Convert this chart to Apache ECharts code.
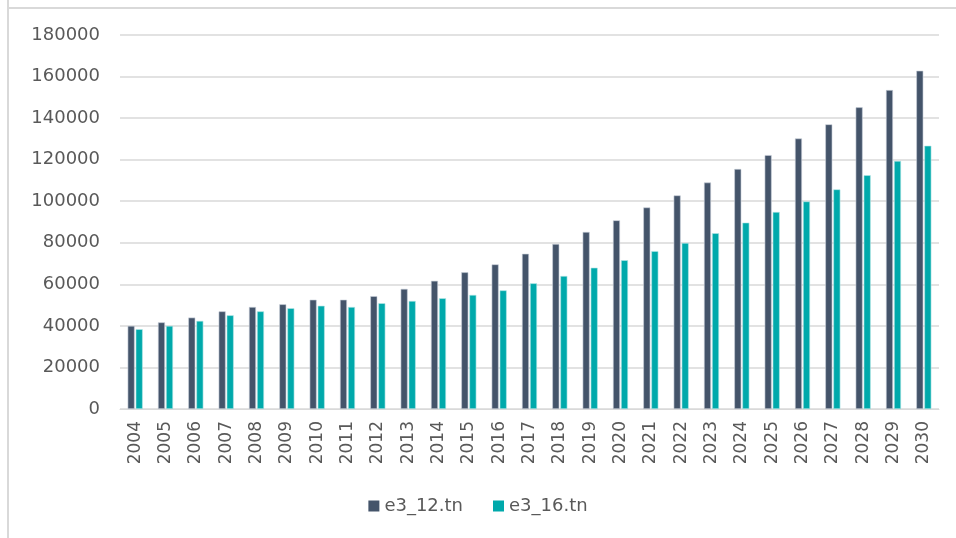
<!DOCTYPE html>
<html>
<head>
<meta charset="utf-8">
<script src="https://cdn.jsdelivr.net/npm/echarts@6/dist/echarts.min.js"></script>
<style>
html,body{margin:0;padding:0;background:#fff;}
#c{width:956px;height:538px;}
</style>
</head>
<body>
<div id="c"></div>
<script>
var years = ['2004','2005','2006','2007','2008','2009','2010','2011','2012','2013','2014','2015','2016','2017','2018','2019','2020','2021','2022','2023','2024','2025','2026','2027','2028','2029','2030'];
var e3_12 = [40000,41700,44000,47000,49100,50400,52600,52600,54300,57800,61700,65800,69600,74700,79400,85200,90800,97000,102800,109000,115500,122200,130200,137000,145200,153500,162800];
var e3_16 = [38400,40000,42400,45100,47000,48500,49700,49100,50900,52000,53300,54900,57100,60500,64000,68000,71600,76000,79900,84600,89700,94800,99900,105700,112500,119400,126700];
var yTicks = {min:0, max:180000, interval:20000};

var chart = echarts.init(document.getElementById('c'), null, {renderer:'canvas'});
var labelFont = 'DejaVu Sans';
chart.setOption({
  backgroundColor:'#ffffff',
  animation:false,
  graphic:[
    {type:'line', shape:{x1:8,y1:0,x2:8,y2:538}, style:{stroke:'#d9d9d9', lineWidth:2}},
    {type:'line', shape:{x1:8,y1:8,x2:956,y2:8}, style:{stroke:'#d9d9d9', lineWidth:2}}
  ],
  grid:{left:120, right:17, top:35, bottom:129, containLabel:false},
  legend:{
    bottom:18, left:'center', itemWidth:11, itemHeight:11, itemGap:30,
    icon:'rect',
    itemStyle:{borderWidth:0},
    textStyle:{color:'#595959', fontSize:18, fontFamily:labelFont},
    data:['e3_12.tn','e3_16.tn']
  },
  xAxis:{
    type:'category', data:years,
    axisLine:{show:true, lineStyle:{color:'#d9d9d9', width:1}},
    axisTick:{show:false},
    axisLabel:{rotate:90, color:'#595959', fontSize:17, fontFamily:labelFont, margin:12, interval:0}
  },
  yAxis:{
    type:'value', min:yTicks.min, max:yTicks.max, interval:yTicks.interval,
    axisLine:{show:false}, axisTick:{show:false},
    splitLine:{lineStyle:{color:'#d9d9d9', width:1.5}},
    axisLabel:{color:'#595959', fontSize:18, fontFamily:labelFont, margin:20,
      formatter:function(v){return String(v);}}
  },
  series:[
    {name:'e3_12.tn', type:'bar', data:e3_12, barWidth:7, barGap:'15%',
     itemStyle:{color:'#44546a', borderColor:'#c9d0da', borderWidth:0.6}},
    {name:'e3_16.tn', type:'bar', data:e3_16, barWidth:7,
     itemStyle:{color:'#00a9ab', borderColor:'#b6e6e6', borderWidth:0.6}}
  ]
});
</script>
</body>
</html>
